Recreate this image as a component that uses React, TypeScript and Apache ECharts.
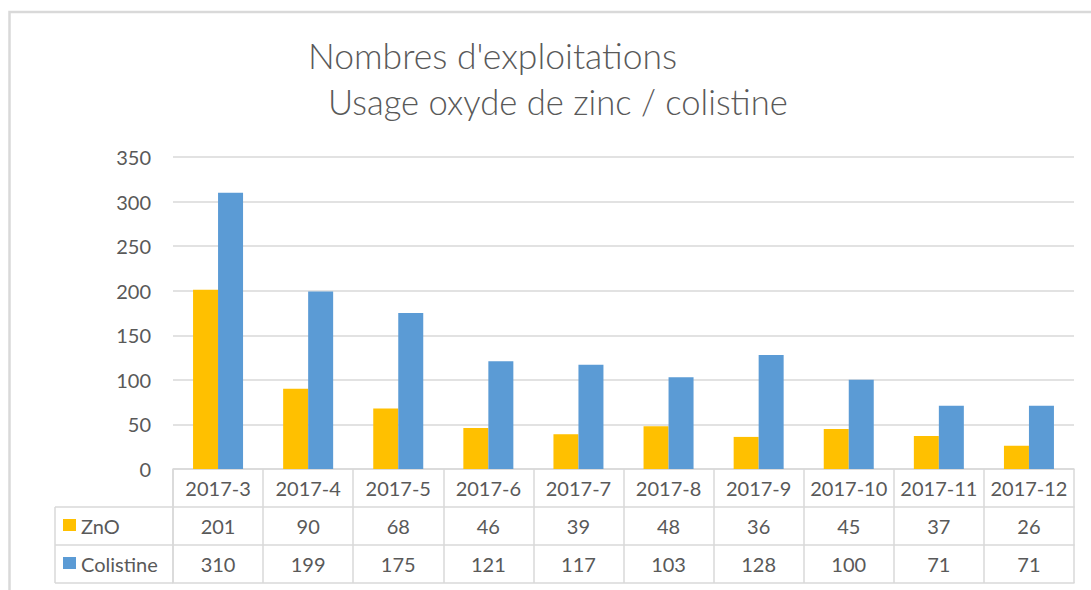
import React, { useEffect, useRef } from "react";
import * as echarts from "echarts";

const categories = ["2017-3", "2017-4", "2017-5", "2017-6", "2017-7", "2017-8", "2017-9", "2017-10", "2017-11", "2017-12"];
const znoValues = [201, 90, 68, 46, 39, 48, 36, 45, 37, 26];
const colistineValues = [310, 199, 175, 121, 117, 103, 128, 100, 71, 71];
const seriesNames = ["ZnO", "Colistine"];
const seriesColors = ["#FFC000", "#5B9BD5"];
const titleLines = ["Nombres d'exploitations", "Usage oxyde de zinc / colistine"];

const FONT = "Lato, 'Open Sans', sans-serif";
const TEXT = "#595959";
const LINE = "#D9D9D9";

const GRID_LEFT = 173;
const GRID_RIGHT = 1074;
const GRID_TOP = 157;
const GRID_BOTTOM = 469;
const ROW_H = 38;
const W = 1091;
const H = 590;

export default function App() {
  const ref = useRef<HTMLDivElement>(null);
  useEffect(() => {
    if (!ref.current) return;
    const chart = echarts.init(ref.current, null, { renderer: "svg" });
    const tableAxis = (data: string[], idx: number, showLabel: boolean) => ({
      type: "category",
      position: "bottom",
      gridIndex: 0,
      offset: ROW_H * idx,
      data,
      boundaryGap: true,
      axisLine: { show: true, lineStyle: { color: LINE, width: 1.5 } },
      axisTick: { show: showLabel, length: ROW_H, alignWithLabel: false, interval: 0, lineStyle: { color: LINE, width: 1.5 } },
      axisLabel: { show: showLabel, interval: 0, margin: 10, fontSize: 20, lineHeight: 18, color: TEXT, fontFamily: FONT },
      splitLine: { show: false },
    });
    const rowLabelX = 55;
    const graphics: any[] = [
      {
        type: "rect",
        shape: { x: 9.5, y: 12, width: 1300, height: 800 },
        style: { fill: "none", stroke: LINE, lineWidth: 2.5 },
        silent: true,
      },
      {
        type: "text",
        x: 308,
        y: 55,
        style: { text: titleLines[0], fontSize: 35.5, fontWeight: 300, fontFamily: FONT, fill: TEXT, verticalAlign: "middle" },
      },
      {
        type: "text",
        x: 328,
        y: 101,
        style: { text: titleLines[1], fontSize: 34.6, fontWeight: 300, fontFamily: FONT, fill: TEXT, verticalAlign: "middle" },
      },
      {
        type: "line",
        shape: { x1: rowLabelX, y1: GRID_BOTTOM + ROW_H, x2: rowLabelX, y2: GRID_BOTTOM + 3 * ROW_H },
        style: { stroke: LINE, lineWidth: 1.5 },
      },
      {
        type: "line",
        shape: { x1: GRID_LEFT, y1: GRID_BOTTOM, x2: GRID_LEFT, y2: GRID_BOTTOM + 3 * ROW_H },
        style: { stroke: LINE, lineWidth: 1.5 },
      },
    ];
    for (let r = 1; r <= 3; r++) {
      graphics.push({
        type: "line",
        shape: { x1: rowLabelX, y1: GRID_BOTTOM + r * ROW_H, x2: GRID_LEFT, y2: GRID_BOTTOM + r * ROW_H },
        style: { stroke: LINE, lineWidth: 1.5 },
      });
    }
    seriesNames.forEach((name, i) => {
      const cy = GRID_BOTTOM + ROW_H * (i + 1) + ROW_H / 2;
      graphics.push({
        type: "rect",
        shape: { x: 63, y: cy - 7, width: 13, height: 12 },
        style: { fill: seriesColors[i] },
      });
      graphics.push({
        type: "text",
        x: 81,
        y: cy,
        style: { text: name, fontSize: 20, fontFamily: FONT, fill: TEXT, verticalAlign: "middle" },
      });
    });

    chart.setOption({
      animation: false,
      backgroundColor: "#ffffff",
      grid: {
        left: GRID_LEFT,
        right: W - GRID_RIGHT,
        top: GRID_TOP,
        bottom: H - GRID_BOTTOM,
        containLabel: false,
      },
      xAxis: [
        tableAxis(categories, 0, true),
        tableAxis(znoValues.map(String), 1, true),
        tableAxis(colistineValues.map(String), 2, true),
        tableAxis(categories, 3, false),
      ],
      yAxis: {
        type: "value",
        min: 0,
        max: 350,
        interval: 50,
        axisLine: { show: false },
        axisTick: { show: false },
        axisLabel: { margin: 22, fontSize: 20, color: TEXT, fontFamily: FONT },
        splitLine: { lineStyle: { color: LINE, width: 1.5 } },
      },
      series: [
        {
          name: seriesNames[0],
          type: "bar",
          xAxisIndex: 0,
          data: znoValues,
          barWidth: 25,
          barGap: "0%",
          itemStyle: { color: seriesColors[0] },
        },
        {
          name: seriesNames[1],
          type: "bar",
          xAxisIndex: 0,
          data: colistineValues,
          barWidth: 25,
          barGap: "0%",
          itemStyle: { color: seriesColors[1] },
        },
      ],
      graphic: graphics,
    });
    return () => chart.dispose();
  }, []);
  return <div ref={ref} style={{ position: "absolute", left: 0, top: 0, width: W, height: H }} />;
}
